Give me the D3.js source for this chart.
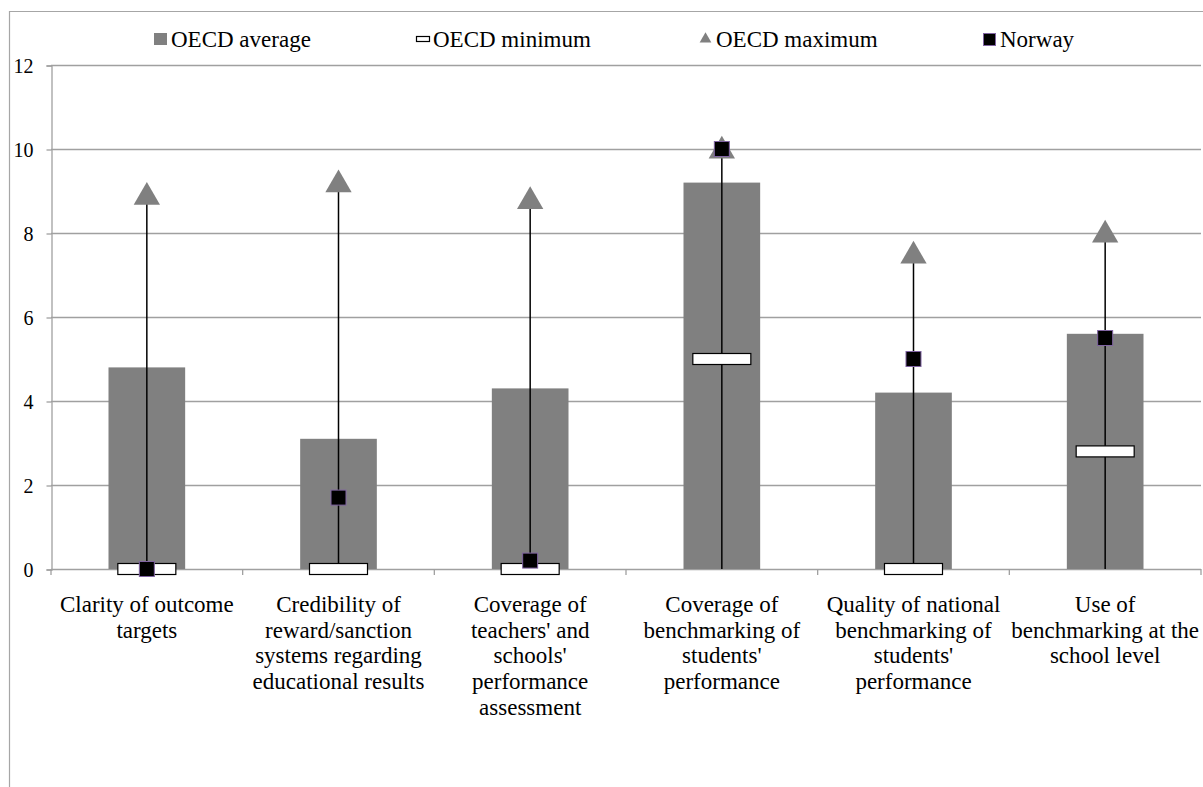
<!DOCTYPE html>
<html>
<head>
<meta charset="utf-8">
<script src="https://cdnjs.cloudflare.com/ajax/libs/d3/7.8.5/d3.min.js"></script>
<style>
  html, body { margin: 0; padding: 0; background: #fff; }
  #chart { width: 1203px; height: 787px; }
  svg text { font-family: "Liberation Serif", "Tinos", "Times New Roman", "DejaVu Serif", serif; fill: #000; }
</style>
</head>
<body>
<div id="chart"></div>
<script>
// Category labels, already split into lines as they wrap in the original
const categories = [
  ['Clarity of outcome', 'targets'],
  ['Credibility of', 'reward/sanction', 'systems regarding', 'educational results'],
  ['Coverage of', "teachers' and", "schools'", 'performance', 'assessment'],
  ['Coverage of', 'benchmarking of', "students'", 'performance'],
  ['Quality of national', 'benchmarking of', "students'", 'performance'],
  ['Use of', 'benchmarking at the', 'school level'],
];

// Series values
const oecdAverage = [4.8, 3.1, 4.3, 9.2, 4.2, 5.6];
const oecdMinimum = [0, 0, 0, 5.0, 0, 2.8];
const oecdMaximum = [8.9, 9.2, 8.8, 10, 7.5, 8.0];
const norway = [0, 1.7, 0.2, 10, 5.0, 5.5];

// Y axis ticks
const yTicks = [0, 2, 4, 6, 8, 10, 12];

const legendItems = ['OECD average', 'OECD minimum', 'OECD maximum', 'Norway'];

const SERIF = '"Liberation Serif", "Tinos", "Times New Roman", "DejaVu Serif", serif';

class RangeChart {
  constructor(elemName) {
    this.width = 1203;
    this.height = 787;
    this.svg = d3.select(elemName).append('svg')
      .attr('width', this.width)
      .attr('height', this.height);
    this.ids = categories.map((c, i) => i);
    this.x = d3.scaleBand()
      .domain(this.ids)
      .range([51, 1201])
      .paddingInner(0.6)
      .paddingOuter(0.3);
    this.y = d3.scaleLinear().domain([0, 12]).range([569, 65]);
  }

  draw() {
    this.drawFrame();
    this.drawAxes();
    this.drawMarks();
    this.drawLegend();
  }

  /* Outer chart border (only top and left are visible in the picture)
  */
  drawFrame() {
    this.svg.append('path')
      .attr('d', `M9.5,${this.height} V11.5 H${this.width}`)
      .attr('fill', 'none')
      .attr('stroke', '#a6a6a6')
      .attr('stroke-width', 1.2);
  }

  drawAxes() {
    const x = this.x, y = this.y;
    const grid = '#a0a0a0';

    // Horizontal gridlines
    this.svg.append('g')
      .selectAll('line')
      .data(yTicks.filter(d => d > 0))
      .join('line')
        .attr('x1', 51).attr('x2', 1201)
        .attr('y1', d => y(d) + 0.5).attr('y2', d => y(d) + 0.5)
        .attr('stroke', grid)
        .attr('stroke-width', 1.3);

    // Y axis with outward ticks
    const yAxis = this.svg.append('g')
      .attr('transform', 'translate(51.5,0.5)')
      .call(d3.axisLeft(y).tickValues(yTicks).tickSize(5).tickPadding(13))
      .attr('font-family', SERIF);
    yAxis.select('.domain').attr('stroke', grid).attr('stroke-width', 1.3);
    yAxis.selectAll('.tick line').attr('stroke', grid).attr('stroke-width', 1.3);
    yAxis.selectAll('.tick text')
      .attr('font-size', 20)
      .attr('dy', '0.36em')
      .style('font-family', SERIF);

    // X axis line with ticks at category boundaries
    const step = x.step();
    const bounds = d3.range(categories.length + 1).map(i => 51 + i * step);
    this.svg.append('line')
      .attr('x1', 51).attr('x2', 1201)
      .attr('y1', y(0) + 0.5).attr('y2', y(0) + 0.5)
      .attr('stroke', grid).attr('stroke-width', 1.3);
    this.svg.append('g')
      .selectAll('line')
      .data(bounds)
      .join('line')
        .attr('x1', d => d).attr('x2', d => d)
        .attr('y1', y(0)).attr('y2', y(0) + 6)
        .attr('stroke', grid).attr('stroke-width', 1.3);

    // Category labels
    const labels = this.svg.append('g')
      .selectAll('text')
      .data(categories)
      .join('text')
        .attr('text-anchor', 'middle')
        .attr('font-size', 23)
        .style('font-family', SERIF)
        .attr('transform', (d, i) => `translate(${x(i) + x.bandwidth() / 2}, 612)`);
    labels.selectAll('tspan')
      .data(d => d)
      .join('tspan')
        .attr('x', 0)
        .attr('y', (d, i) => i * 25.7)
        .text(d => d);
  }

  drawMarks() {
    const x = this.x, y = this.y;
    const cx = i => x(i) + x.bandwidth() / 2;

    // Average bars
    this.svg.append('g')
      .selectAll('rect')
      .data(oecdAverage)
      .join('rect')
        .attr('x', (d, i) => x(i))
        .attr('width', x.bandwidth())
        .attr('y', d => y(d))
        .attr('height', d => y(0) - y(d))
        .attr('fill', '#808080');

    // Vertical range lines from zero to the maximum
    this.svg.append('g')
      .selectAll('line')
      .data(oecdMaximum)
      .join('line')
        .attr('x1', (d, i) => cx(i)).attr('x2', (d, i) => cx(i))
        .attr('y1', y(0)).attr('y2', d => y(d))
        .attr('stroke', '#000')
        .attr('stroke-width', 1.5);

    // Minimum markers
    this.svg.append('g')
      .selectAll('rect')
      .data(oecdMinimum)
      .join('rect')
        .attr('x', (d, i) => cx(i) - 29)
        .attr('y', d => y(d) - 5.5)
        .attr('width', 58)
        .attr('height', 11)
        .attr('fill', '#fff')
        .attr('stroke', '#000')
        .attr('stroke-width', 1.2);

    // Maximum markers
    const tri = d3.symbol().type(d3.symbolTriangle).size(300);
    this.svg.append('g')
      .selectAll('path')
      .data(oecdMaximum)
      .join('path')
        .attr('d', tri)
        .attr('transform', (d, i) => `translate(${cx(i)}, ${y(d) + 2})`)
        .attr('fill', '#808080');

    // Norway markers
    this.svg.append('g')
      .selectAll('rect')
      .data(norway)
      .join('rect')
        .attr('x', (d, i) => cx(i) - 7.5)
        .attr('y', d => y(d) - 7.5)
        .attr('width', 15)
        .attr('height', 15)
        .attr('fill', '#000')
        .attr('stroke', '#8064a2')
        .attr('stroke-width', 1);
  }

  drawLegend() {
    const starts = [154, 416, 699, 983];
    const g = this.svg.append('g').attr('class', 'legend');
    const items = g.selectAll('g')
      .data(legendItems)
      .join('g')
        .attr('transform', (d, i) => `translate(${starts[i]}, 39)`);

    items.each(function(d, i) {
      const item = d3.select(this);
      if (i === 0) {
        item.append('rect').attr('x', 0).attr('y', -6).attr('width', 13).attr('height', 12)
          .attr('fill', '#808080');
      } else if (i === 1) {
        item.append('rect').attr('x', 0.5).attr('y', -2.5).attr('width', 13).attr('height', 5)
          .attr('fill', '#fff').attr('stroke', '#000').attr('stroke-width', 1.2);
      } else if (i === 2) {
        item.append('path')
          .attr('d', d3.symbol().type(d3.symbolTriangle).size(60))
          .attr('transform', 'translate(6.5, 0)')
          .attr('fill', '#808080');
      } else {
        item.append('rect').attr('x', 0.5).attr('y', -5.5).attr('width', 12).attr('height', 12)
          .attr('fill', '#000').attr('stroke', '#8064a2').attr('stroke-width', 1);
      }
      item.append('text')
        .attr('x', 17)
        .attr('y', 7.5)
        .attr('font-size', 23)
        .style('font-family', SERIF)
        .text(d);
    });
  }
}

const chart = new RangeChart('#chart');
chart.draw();
</script>
</body>
</html>
